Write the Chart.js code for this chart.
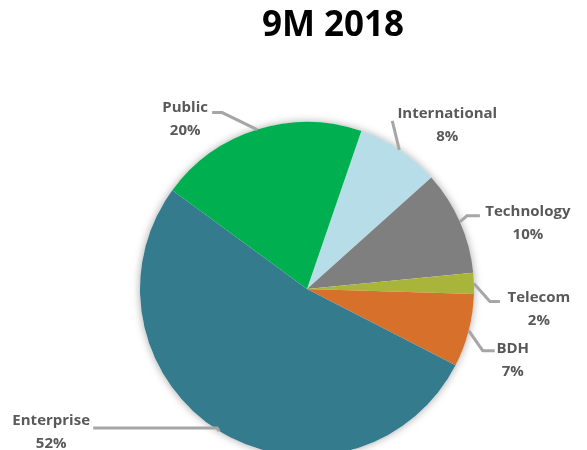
<!DOCTYPE html>
<html>
<head>
<meta charset="utf-8">
<script src="https://cdn.jsdelivr.net/npm/chart.js@4.4.1/dist/chart.umd.min.js"></script>
<style>
  html, body { margin: 0; padding: 0; background: #fff; overflow: hidden; }
  #wrap { position: relative; width: 587px; height: 470px; }
</style>
</head>
<body>
<div id="wrap"><canvas id="pie"></canvas></div>
<script>
const chartTitle = '9M 2018';
const segments = ['International', 'Technology', 'Telecom', 'BDH', 'Enterprise', 'Public'];
const shares = [8, 10, 2, 7, 52, 20];
const sliceColors = ['#B7DEE8', '#7F7F7F', '#A9B53A', '#D7702A', '#347B8E', '#00B050'];

// where each label sits, relative to the point where its leader meets the rim
// path = bends of the leader line, text = centre of the first text line
const labelLayout = [
  { path: [[-7, -29]], text: [48, -36] },
  { path: [[7, -6], [20, -6]], text: [68, -10] },
  { path: [[16, 18], [26, 18]], text: [65, 14] },
  { path: [[14, 20], [26, 20]], text: [44, 18] },
  { path: [[-2, -3], [-126, -3]], text: [-168, -10] },
  { path: [[-35, -17], [-45, -17]], text: [-72, -22] }
];

const pieDecor = {
  id: 'pieDecor',
  beforeDatasetsDraw(chart) {
    // soft shadow under the whole pie
    const arc = chart.getDatasetMeta(0).data[0];
    const ctx = chart.ctx;
    ctx.save();
    ctx.shadowColor = 'rgba(0, 0, 0, 0.35)';
    ctx.shadowBlur = 8;
    ctx.fillStyle = '#fff';
    ctx.beginPath();
    ctx.arc(arc.x, arc.y, arc.outerRadius, 0, Math.PI * 2);
    ctx.fill();
    ctx.restore();
  },
  afterDatasetsDraw(chart) {
    const ctx = chart.ctx;
    const meta = chart.getDatasetMeta(0);
    ctx.save();

    ctx.fillStyle = '#000';
    ctx.font = 'bold 35px "Open Sans"';
    ctx.textAlign = 'center';
    ctx.textBaseline = 'alphabetic';
    ctx.fillText(chartTitle, 333, 36);

    ctx.font = 'bold 15px "Open Sans"';
    ctx.textBaseline = 'middle';
    meta.data.forEach((arc, i) => {
      const mid = (arc.startAngle + arc.endAngle) / 2;
      const ex = arc.x + Math.cos(mid) * arc.outerRadius;
      const ey = arc.y + Math.sin(mid) * arc.outerRadius;
      const lay = labelLayout[i];

      ctx.strokeStyle = '#A6A6A6';
      ctx.lineWidth = 3;
      ctx.beginPath();
      ctx.moveTo(ex, ey);
      lay.path.forEach(p => ctx.lineTo(ex + p[0], ey + p[1]));
      ctx.stroke();

      ctx.fillStyle = '#595959';
      const tx = ex + lay.text[0];
      const ty = ey + lay.text[1];
      ctx.fillText(segments[i], tx, ty);
      ctx.fillText(shares[i] + '%', tx, ty + 23);
    });
    ctx.restore();
  }
};

new Chart(document.getElementById('pie'), {
  type: 'pie',
  data: {
    labels: segments,
    datasets: [{
      data: shares,
      backgroundColor: sliceColors,
      borderWidth: 0,
      hoverOffset: 0
    }]
  },
  options: {
    responsive: true,
    maintainAspectRatio: false,
    animation: false,
    events: [],
    rotation: 19,
    radius: 167,
    layout: { padding: { left: 140, right: 113, top: 122, bottom: 14 } },
    plugins: {
      legend: { display: false },
      tooltip: { enabled: false },
      title: { display: false }
    }
  },
  plugins: [pieDecor]
});
</script>
</body>
</html>
